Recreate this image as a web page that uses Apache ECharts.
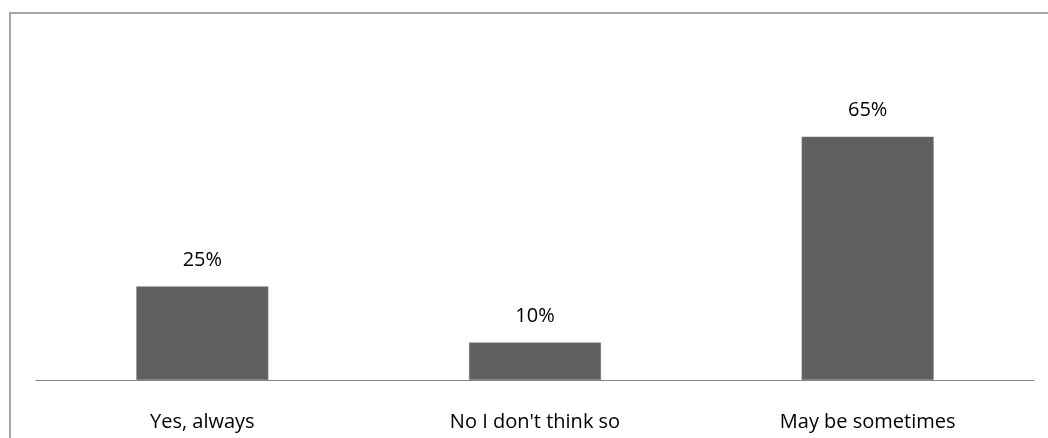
<!DOCTYPE html>
<html>
<head>
<meta charset="utf-8">
<script src="https://cdn.jsdelivr.net/npm/echarts@6/dist/echarts.min.js"></script>
<style>
html,body{margin:0;padding:0;background:#fff;}
#chart{width:1048px;height:438px;}
</style>
</head>
<body>
<div id="chart"></div>
<script>
const categories = ["Yes, always", "No I don't think so", "May be sometimes"];
const values = [25, 10, 65];

const chart = echarts.init(document.getElementById('chart'), null, {renderer: 'canvas'});
chart.setOption({
  animation: false,
  backgroundColor: '#ffffff',
  graphic: [{
    type: 'rect',
    shape: {x: 10, y: 13, width: 1200, height: 600},
    style: {fill: 'none', stroke: '#a4a4a4', lineWidth: 2},
    silent: true
  }],
  grid: {left: 36, right: 14, top: 118, bottom: 58},
  xAxis: {
    type: 'category',
    data: categories,
    axisLine: {show: true, lineStyle: {color: '#868686', width: 1}},
    axisTick: {show: false},
    axisLabel: {
      color: '#000000',
      fontFamily: 'Open Sans',
      fontSize: 20,
      margin: 32
    }
  },
  yAxis: {
    type: 'value',
    min: 0,
    max: 70,
    show: false,
    splitLine: {show: false}
  },
  series: [{
    type: 'bar',
    data: values,
    barWidth: 132,
    itemStyle: {color: '#606060', borderColor: '#7a7a7a', borderWidth: 0.5},
    label: {
      show: true,
      position: 'top',
      distance: 16,
      formatter: p => p.value + '%',
      color: '#000000',
      fontFamily: 'Open Sans',
      fontSize: 20
    }
  }]
});
</script>
</body>
</html>
